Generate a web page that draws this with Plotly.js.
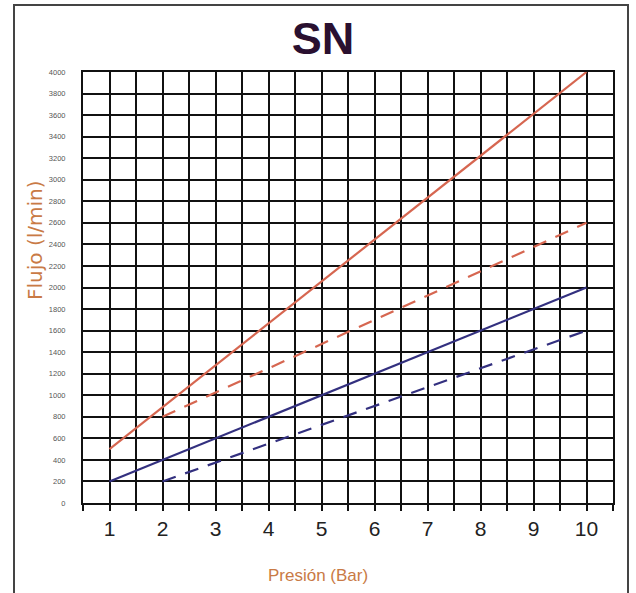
<!DOCTYPE html>
<html>
<head>
<meta charset="utf-8">
<script src="https://cdn.plot.ly/plotly-3.0.1.min.js"></script>
<style>
html,body{margin:0;padding:0;background:#fff;}
#chart{width:636px;height:593px;}
</style>
</head>
<body>
<div id="chart"></div>
<script>
// Data
const presion = [1, 2, 3, 4, 5, 6, 7, 8, 9, 10];
const redSolidX = [1, 10];
const redSolidY = [500, 4000];
const redDashX = [2, 10];
const redDashY = [800, 2600];
const blueSolidX = [1, 10];
const blueSolidY = [200, 2000];
const blueDashX = [2, 10];
const blueDashY = [200, 1600];
const yTicks = [];
for (let v = 0; v <= 4000; v += 200) yTicks.push(v);

const RED = '#d66650';
const BLUE = '#33307f';
const ORANGE = '#c97a45';
const SANS = '"Liberation Sans", Arial, sans-serif';

const traces = [
  {x: redSolidX, y: redSolidY, mode: 'lines', line: {color: RED, width: 2.2}},
  {x: redDashX, y: redDashY, mode: 'lines', line: {color: RED, width: 2.2, dash: '14px,10px'}},
  {x: blueSolidX, y: blueSolidY, mode: 'lines', line: {color: BLUE, width: 2.2}},
  {x: blueDashX, y: blueDashY, mode: 'lines', line: {color: BLUE, width: 2.2, dash: '14px,10px'}}
];

const layout = {
  width: 636, height: 593,
  margin: {l: 83, r: 23, t: 72, b: 90},
  paper_bgcolor: '#fff', plot_bgcolor: '#fff',
  showlegend: false,
  title: {text: '<b>SN</b>', font: {family: SANS, size: 45, color: '#2a1030'},
          x: 0.508, xanchor: 'center', y: 0.935, yanchor: 'middle'},
  xaxis: {
    range: [0.5, 10.5],
    tickvals: presion, ticktext: presion.map(String),
    showgrid: true, gridcolor: '#111', gridwidth: 2,
    ticks: 'outside', ticklen: 6, tickwidth: 2, tickcolor: '#111',
    minor: {dtick: 0.5, tick0: 0, showgrid: true, gridcolor: '#111', gridwidth: 2,
            ticks: 'outside', ticklen: 6, tickwidth: 2, tickcolor: '#111'},
    showline: true, linecolor: '#111', linewidth: 2, mirror: true,
    zeroline: false,
    tickfont: {family: SANS, size: 21, color: '#222'}
  },
  yaxis: {
    range: [0, 4000],
    tickvals: yTicks, ticktext: yTicks.map(String),
    showgrid: true, gridcolor: '#111', gridwidth: 2,
    ticks: '', ticklabelstandoff: 14,
    showline: true, linecolor: '#111', linewidth: 2, mirror: true,
    zeroline: false,
    tickfont: {family: SANS, size: 7.5, color: '#555'}
  },
  annotations: [
    {text: 'Presión (Bar)', xref: 'paper', yref: 'paper',
     x: (318 - 83) / 530, y: (503 - 575) / 431, xanchor: 'center', yanchor: 'middle',
     showarrow: false, font: {family: SANS, size: 17, color: ORANGE}},
    {text: 'Flujo (l/min)', xref: 'paper', yref: 'paper',
     x: (35 - 83) / 530, y: (503 - 240) / 431, xanchor: 'center', yanchor: 'middle',
     textangle: -90, showarrow: false,
     font: {family: '"DejaVu Sans", sans-serif', size: 20, color: ORANGE}}
  ],
  shapes: [{
    type: 'rect', xref: 'paper', yref: 'paper',
    x0: (14 - 83) / 530, x1: (628 - 83) / 530,
    y0: (503 - 600) / 431, y1: (503 - 5) / 431,
    line: {color: '#444', width: 2}, fillcolor: 'rgba(0,0,0,0)', layer: 'below'
  }]
};

Plotly.newPlot('chart', traces, layout, {staticPlot: true, displayModeBar: false});
</script>
</body>
</html>
